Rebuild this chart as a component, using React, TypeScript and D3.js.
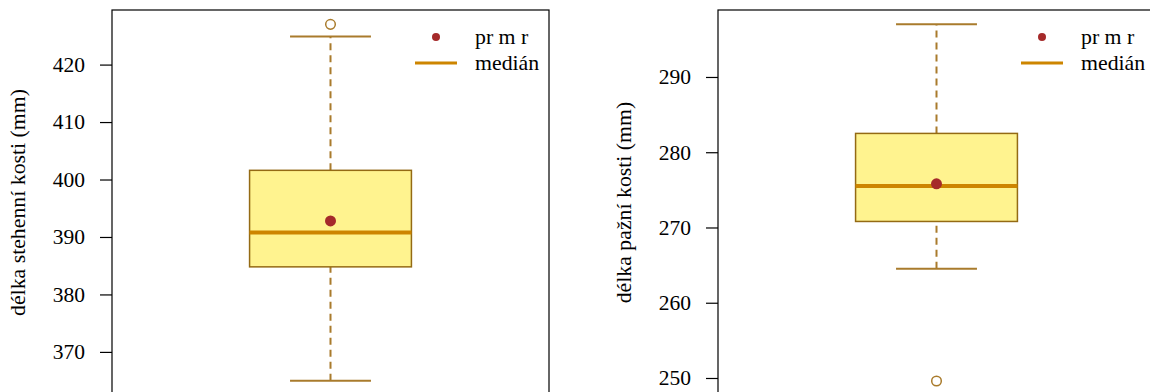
import React, { useEffect, useRef } from 'react'
import { axisLeft, scaleLinear, select } from 'd3'

// box stats: [lower whisker, Q1, median, Q3, upper whisker]
const femurStats = [365, 384.8, 390.8, 401.6, 424.9]
const femurMean = 392.8
const femurOutliers = [427]
const femurTicks = [370, 380, 390, 400, 410, 420]

const humerusStats = [264.5, 270.8, 275.5, 282.5, 297]
const humerusMean = 275.8
const humerusOutliers = [249.6]
const humerusTicks = [250, 260, 270, 280, 290]

const legendLabels = ['pr m r', 'medián']

const FONT = "'Liberation Serif', 'DejaVu Serif', serif"
const FILL = '#FFF38F'
const BORDER = '#946A14'
const WHISKER = '#A97B2C'
const MEDIAN = '#CD8500'
const MEAN = '#A52A2A'

type PanelProps = {
  left: number
  stats: number[]
  mean: number
  outliers: number[]
  ticks: number[]
  domain: [number, number]
  label: string
}

const Panel = ({ left, stats, mean, outliers, ticks, domain, label }: PanelProps) => {
  const gRef = useRef<SVGGElement>(null)
  const W = 437
  const top = 10
  const bottom = 395

  useEffect(() => {
    const g = select(gRef.current)
    g.selectAll('*').remove()

    const x = scaleLinear().domain([0.46, 1.54]).range([0, W])
    const y = scaleLinear().domain(domain).range([bottom, top])
    const [lo, q1, med, q3, hi] = stats

    // whiskers
    g.selectAll('.whisker')
      .data([[q3, hi], [lo, q1]])
      .join('line')
      .attr('x1', x(1)).attr('x2', x(1))
      .attr('y1', d => y(d[0])).attr('y2', d => y(d[1]))
      .attr('stroke', WHISKER).attr('stroke-width', 2)
      .attr('stroke-dasharray', '7,5')

    g.selectAll('.cap')
      .data([lo, hi])
      .join('line')
      .attr('x1', x(0.9)).attr('x2', x(1.1))
      .attr('y1', d => y(d)).attr('y2', d => y(d))
      .attr('stroke', WHISKER).attr('stroke-width', 2)

    // box
    g.append('rect')
      .attr('x', x(0.8)).attr('width', x(1.2) - x(0.8))
      .attr('y', y(q3)).attr('height', y(q1) - y(q3))
      .attr('fill', FILL).attr('stroke', BORDER).attr('stroke-width', 1.5)

    g.append('line')
      .attr('x1', x(0.8)).attr('x2', x(1.2))
      .attr('y1', y(med)).attr('y2', y(med))
      .attr('stroke', MEDIAN).attr('stroke-width', 4)

    g.append('circle')
      .attr('cx', x(1)).attr('cy', y(mean)).attr('r', 5.5)
      .attr('fill', MEAN)

    g.selectAll('.outlier')
      .data(outliers)
      .join('circle')
      .attr('cx', x(1)).attr('cy', d => y(d)).attr('r', 4.8)
      .attr('fill', 'none').attr('stroke', WHISKER).attr('stroke-width', 1.5)

    // frame
    g.append('rect')
      .attr('x', 0).attr('y', top).attr('width', W).attr('height', bottom - top)
      .attr('fill', 'none').attr('stroke', '#000').attr('stroke-width', 1.2)

    // axis
    const axis = g.append('g').call(
      axisLeft(y).tickValues(ticks).tickSize(12).tickPadding(15).tickFormat(d => String(d))
    )
    axis.attr('font-family', null).attr('font-size', null)
    axis.select('.domain').remove()
    axis.selectAll('line').attr('stroke', '#000').attr('stroke-width', 1.2)
    axis.selectAll('text')
      .attr('fill', '#000')
      .style('font-family', FONT)
      .style('font-size', '21.5px')

    g.append('text')
      .attr('transform', `translate(-87,${(top + bottom) / 2}) rotate(-90)`)
      .attr('text-anchor', 'middle')
      .style('font-family', FONT)
      .style('font-size', '21.8px')
      .text(label)

    // legend
    const legend = g.append('g')
    legend.append('circle')
      .attr('cx', 324).attr('cy', 37).attr('r', 4).attr('fill', MEAN)
    legend.append('line')
      .attr('x1', 303).attr('x2', 345).attr('y1', 63).attr('y2', 63)
      .attr('stroke', MEDIAN).attr('stroke-width', 3)
    legend.selectAll('.lab')
      .data(legendLabels)
      .join('text')
      .attr('x', 363)
      .attr('y', (d, i) => 37 + i * 26)
      .attr('dy', '0.32em')
      .style('font-family', FONT)
      .style('font-size', '21.8px')
      .text(d => d)
  }, [stats, mean, outliers, ticks, domain, label])

  return <g ref={gRef} transform={`translate(${left},0)`} />
}

const App = () => {
  return (
    <svg
      width="1150"
      height="392"
      viewBox="0 0 1150 392"
      style={{ position: 'absolute', left: 0, top: 0, background: '#fff', fontFamily: FONT }}
    >
      <Panel
        left={112}
        stats={femurStats}
        mean={femurMean}
        outliers={femurOutliers}
        ticks={femurTicks}
        domain={[362.5, 429.5]}
        label="délka stehenní kosti (mm)"
      />
      <Panel
        left={718}
        stats={humerusStats}
        mean={humerusMean}
        outliers={humerusOutliers}
        ticks={humerusTicks}
        domain={[247.74, 298.9]}
        label="délka pažní kosti (mm)"
      />
    </svg>
  )
}

export default App
